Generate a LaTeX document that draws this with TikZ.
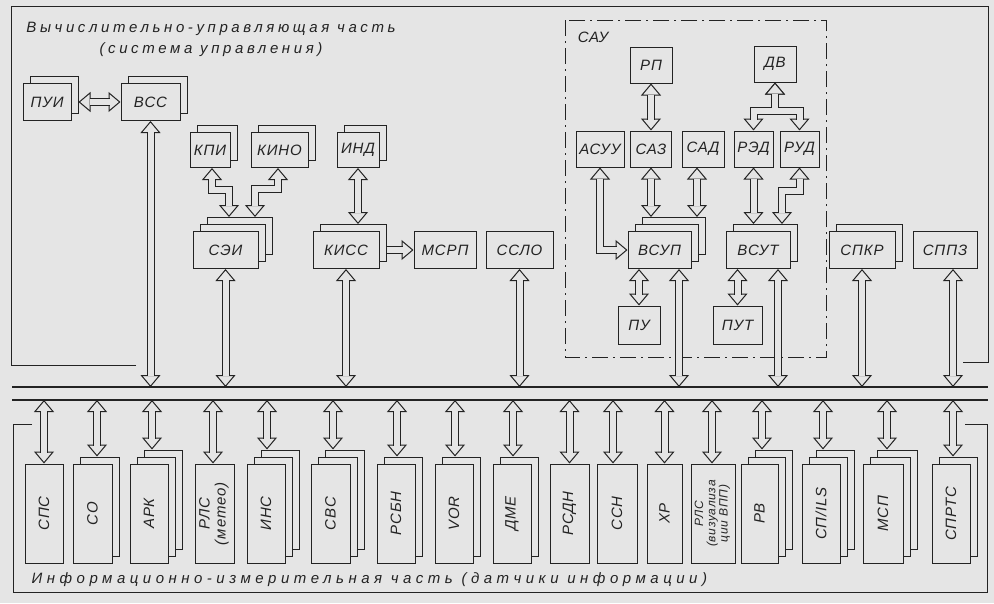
\documentclass[tikz,border=0pt]{standalone}
\usepackage{fontspec}
\newfontfamily\gostfont[LetterSpace=6]{Liberation Sans}
\newfontfamily\gostwide[LetterSpace=30]{Liberation Sans}
\newfontfamily\gosttitle[LetterSpace=24]{Liberation Sans}
\usetikzlibrary{arrows.meta, positioning, calc, shadows}
\definecolor{paper}{RGB}{229,229,229}
\definecolor{ink}{RGB}{35,35,35}
\newcommand{\gost}{\gostfont\itshape\fontsize{15}{16}\selectfont}
\newcommand{\gostw}{\gostwide\itshape\fontsize{15}{21}\selectfont}
\newcommand{\gostt}{\gosttitle\itshape\fontsize{15}{21}\selectfont}
\newcommand{\biarrow}[1]{\draw[tips] #1; \draw[pipe] #1;}
\newcommand{\onearrow}[1]{\draw[tipend] #1; \draw[pipe, shorten <=0pt] #1;}
\tikzset{
  hd/.tip={Triangle[length=12pt, width=20pt, fill=paper]},
  tips/.style={line width=1pt, {hd}-{hd}},
  tipend/.style={line width=1pt, -{hd}},
  pipe/.style={line width=1pt, double=paper, double distance=6pt,
               shorten <=11pt, shorten >=11pt},
  blk/.style={rectangle, draw, fill=paper, line width=1pt,
              inner sep=1pt, font=\gost},
  two/.style={blk, copy shadow={shadow xshift=7pt, shadow yshift=7pt}},
  three/.style={blk, copy shadow={shadow xshift=14pt, shadow yshift=14pt},
                copy shadow={shadow xshift=7pt, shadow yshift=7pt}},
  hbox/.style={minimum height=37pt},
  vbox/.style={minimum width=38pt, minimum height=99pt},
  busline/.style={line width=1.6pt},
  frame/.style={line width=1pt},
  saugrp/.style={line width=0.9pt, dash pattern=on 16pt off 5pt on 2pt off 5pt},
}

\begin{document}
\begin{tikzpicture}[x=1pt, y=-1pt, color=ink]

  \useasboundingbox (0,0) rectangle (994,603);
  \fill[paper] (0,0) rectangle (994,603);

  % frames and bus
  \draw[frame] (136,365) -| (11,6) -| (988,362) -- (963,362);
  \draw[frame] (32,424) -| (13,592) -| (987,424) -- (965,424);
  \coordinate (busup) at (12,387);
  \coordinate (busdn) at (12,400);
  \draw[busline] (busup) -- (988,387);
  \draw[busline] (busdn) -- (988,400);
  \draw[saugrp] (565,20) rectangle (826,357);

  \node[font=\gostt, align=center] (title) at (211,39)
    {Вычислительно-управляющая часть\\(система управления)};
  \node[font=\gost] (saulbl) at (593,37) {САУ};
  \node[font=\gostw, anchor=west] (infolbl) at (28,580)
    {Информационно-измерительная часть (датчики информации)};

  % control part
  \node[two, hbox, minimum width=48pt] (pui) at (47,102) {ПУИ};
  \node[two, hbox, minimum width=59pt] (vss) at (150.5,102) {ВСС};
  \node[two, minimum width=40pt, minimum height=35pt] (kpi) at (210,150) {КПИ};
  \node[two, minimum width=57pt, minimum height=35pt] (kino) at (279.5,150) {КИНО};
  \node[two, minimum width=42pt, minimum height=35pt] (ind) at (358,150) {ИНД};
  \node[three, hbox, minimum width=65pt] (sei) at (225.5,250) {СЭИ};
  \node[two, hbox, minimum width=66pt] (kiss) at (346,250) {КИСС};
  \node[blk, hbox, minimum width=62pt] (msrp) at (445,250) {МСРП};
  \node[blk, hbox, minimum width=67pt] (sslo) at (519.5,250) {ССЛО};

  % SAU
  \node[blk, minimum width=42pt, minimum height=36pt] (rp) at (651,65) {РП};
  \node[blk, minimum width=42pt, minimum height=36pt] (dv) at (775,64) {ДВ};
  \node[blk, minimum width=48pt, minimum height=36pt] (asuu) at (600,149) {АСУУ};
  \node[blk, minimum width=41pt, minimum height=36pt] (saz) at (651,149) {САЗ};
  \node[blk, minimum width=42pt, minimum height=36pt] (sad) at (703,149) {САД};
  \node[blk, minimum width=39pt, minimum height=36pt] (red) at (753.5,149) {РЭД};
  \node[blk, minimum width=39pt, minimum height=36pt] (rud) at (799.5,149) {РУД};
  \node[three, hbox, minimum width=63pt] (vsup) at (659.5,250) {ВСУП};
  \node[two, hbox, minimum width=64pt] (vsut) at (758,250) {ВСУТ};
  \node[blk, minimum width=42pt, minimum height=38pt] (pu) at (639,325) {ПУ};
  \node[blk, minimum width=49pt, minimum height=38pt] (put) at (737.5,325) {ПУТ};
  \node[two, hbox, minimum width=66pt] (spkr) at (862,250) {СПКР};
  \node[blk, hbox, minimum width=64pt] (sppz) at (945,250) {СППЗ};

  % sensors
  \node[blk, vbox] (sps) at (44,513.5) {\rotatebox{90}{СПС}};
  \node[two, vbox, minimum width=39pt] (so) at (92.5,513.5) {\rotatebox{90}{СО}};
  \node[three, vbox] (ark) at (149,513.5) {\rotatebox{90}{АРК}};
  \node[blk, vbox, minimum width=39pt] (rlsm) at (214.5,513.5)
    {\rotatebox{90}{\begin{tabular}{@{}c@{}}РЛС\\(метео)\end{tabular}}};
  \node[three, vbox] (ins) at (266,513.5) {\rotatebox{90}{ИНС}};
  \node[three, vbox, minimum width=39pt] (svs) at (330.5,513.5) {\rotatebox{90}{СВС}};
  \node[two, vbox] (rsbn) at (396,513.5) {\rotatebox{90}{РСБН}};
  \node[two, vbox] (vor) at (454,513.5) {\rotatebox{90}{VOR}};
  \node[two, vbox] (dme) at (512,513.5) {\rotatebox{90}{ДМЕ}};
  \node[blk, vbox, minimum width=39pt] (rsdn) at (569.5,513.5) {\rotatebox{90}{РСДН}};
  \node[blk, vbox, minimum width=40pt] (ssn) at (617,513.5) {\rotatebox{90}{ССН}};
  \node[blk, vbox, minimum width=35pt] (xr) at (664.5,513.5) {\rotatebox{90}{ХР}};
  \node[blk, vbox, minimum width=44pt] (rlsv) at (713,513.5)
    {\rotatebox{90}{\fontsize{12}{12}\selectfont
     \begin{tabular}{@{}c@{}}РЛС\\(визуализа\\ции ВПП)\end{tabular}}};
  \node[three, vbox, minimum width=37pt] (rv) at (759.5,513.5) {\rotatebox{90}{РВ}};
  \node[three, vbox] (spils) at (821,513.5) {\rotatebox{90}{СП/ILS}};
  \node[three, vbox, minimum width=40pt] (msp) at (883,513.5) {\rotatebox{90}{МСП}};
  \node[two, vbox] (sprts) at (951,513.5) {\rotatebox{90}{СПРТС}};

  % links in the control part
  \biarrow{([xshift=7pt]pui.east) -- (vss.west)}
  \biarrow{([xshift=2pt]kpi.south) -- ++(0,22) -| ([xshift=3.5pt,yshift=14pt]sei.north)}
  \biarrow{([xshift=-1.5pt]kino.south) -- ++(0,21) -| ([xshift=29.5pt,yshift=14pt]sei.north)}
  \biarrow{(ind.south) -- ([xshift=12pt,yshift=7pt]kiss.north)}
  \onearrow{([xshift=7pt]kiss.east) -- (msrp.west)}

  % links in SAU
  \biarrow{(rp.south) -- (saz.north)}
  \draw[tips] (dv.south) -- ++(0,28) -| (red.north);
  \draw[tips] (dv.south) -- ++(0,28) -| (rud.north);
  \draw[pipe, shorten <=0pt, shorten >=0pt]
    ([yshift=11pt]red.north) |- ($(dv.south)+(0,28)$) -| ([yshift=11pt]rud.north)
    ($(dv.south)+(0,28)$) -- ([yshift=-11pt]dv.south);
  \biarrow{(asuu.south) |- (vsup.west)}
  \biarrow{(saz.south) -- ([xshift=-8.5pt,yshift=14pt]vsup.north)}
  \biarrow{([xshift=-6pt]sad.south) -- ([xshift=37.5pt,yshift=14pt]vsup.north)}
  \biarrow{(red.south) -- ([xshift=-4.5pt,yshift=7pt]vsut.north)}
  \biarrow{(rud.south) -- ++(0,23) -| ([xshift=24pt,yshift=7pt]vsut.north)}
  \biarrow{(pu.north) -- (pu.north |- vsup.south)}
  \biarrow{(put.north) -- (put.north |- vsut.south)}

  % to the bus
  \biarrow{(vss.south) -- (vss.south |- busup)}
  \biarrow{(sei.south) -- (sei.south |- busup)}
  \biarrow{(kiss.south) -- (kiss.south |- busup)}
  \biarrow{(sslo.south) -- (sslo.south |- busup)}
  \biarrow{($(vsup.south)+(19.5,0)$) -- ($(vsup.south |- busup)+(19.5,0)$)}
  \biarrow{($(vsut.south)+(20,0)$) -- ($(vsut.south |- busup)+(20,0)$)}
  \biarrow{(spkr.south) -- (spkr.south |- busup)}
  \biarrow{($(sppz.south)+(8,0)$) -- ($(sppz.south |- busup)+(8,0)$)}

  \foreach \n/\dx/\up in {sps/0/0, so/4.5/7, ark/3/14, rlsm/-1.5/0, ins/1/14,
      svs/2.5/14, rsbn/1/7, vor/1/7, dme/1/7, rsdn/0/0, ssn/-4/0, xr/0/0,
      rlsv/-1/0, rv/2.5/14, spils/2/14, msp/4/14, sprts/2/7}
    {\biarrow{($(\n.north |- busdn)+(\dx,0)$) -- ($(\n.north)+(\dx,-\up)$)}}

\end{tikzpicture}
\end{document}
